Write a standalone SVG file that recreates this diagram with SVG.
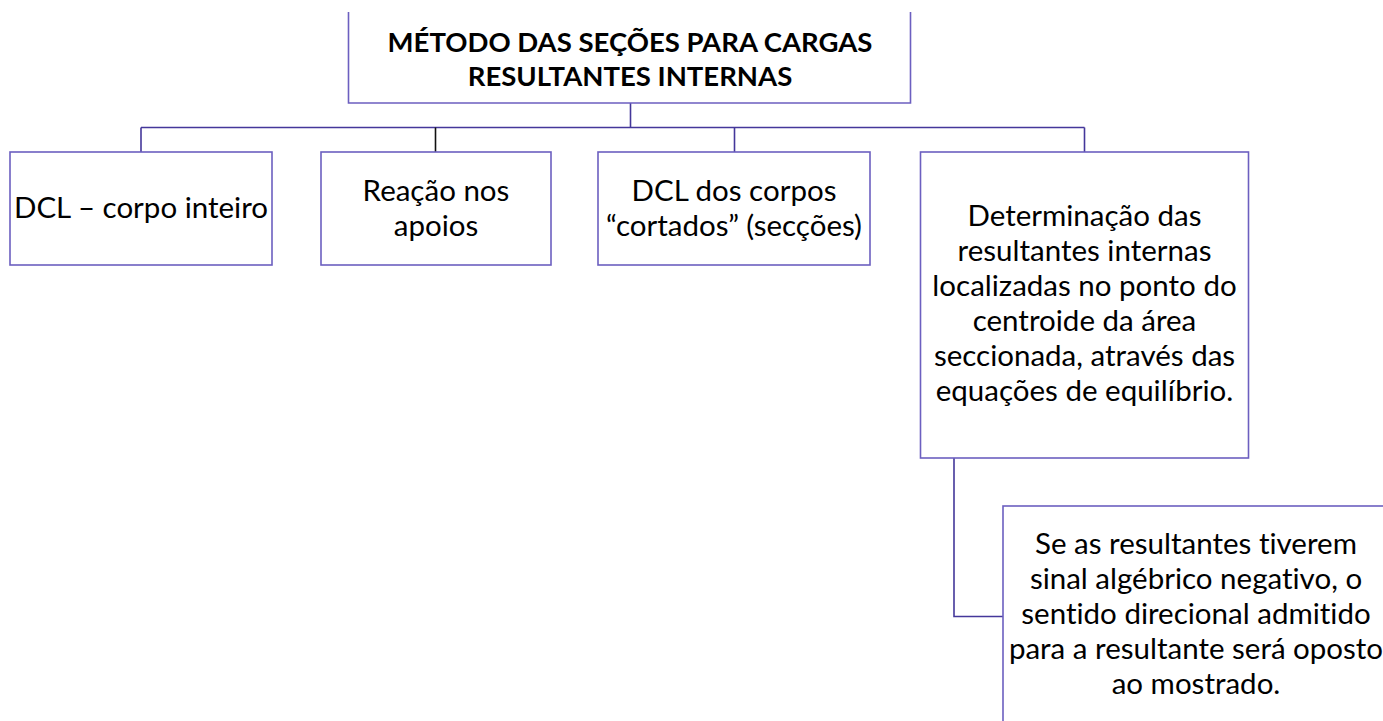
<svg xmlns="http://www.w3.org/2000/svg" width="1383" height="721" viewBox="0 0 1383 721">
<style>
.box{fill:#fff;stroke:#6c5fc0;stroke-width:1.6}
.con{fill:none;stroke:#44379a;stroke-width:1.6}
.t{font-family:Lato,"Open Sans","Liberation Sans",sans-serif;font-size:29.5px;fill:#000;text-anchor:middle;font-variant-ligatures:none;font-feature-settings:"liga" 0}
.b{font-weight:bold;font-size:27.5px}
</style>
<rect width="1383" height="721" fill="#fff"/>
<g id="connectors">
<path class="con" d="M630.5,103 V127.5"/>
<path class="con" d="M141,127.5 H1084.5"/>
<path class="con" d="M141,127.5 V152"/>
<path d="M435.5,127.5 V152" fill="none" stroke="#111" stroke-width="1.6"/>
<path class="con" d="M734.5,127.5 V152"/>
<path class="con" d="M1084.5,127.5 V152"/>
<path class="con" d="M954,458 V616.5 H1003"/>
</g>
<g id="n0">
<path class="box" d="M348.5,12 V103 H910.5 V12"/>
<text class="t b" x="630" y="52">MÉTODO DAS SEÇÕES PARA CARGAS</text>
<text class="t b" x="630" y="86">RESULTANTES INTERNAS</text>
</g>
<g id="n1">
<rect class="box" x="10" y="152" width="262" height="113"/>
<text class="t" x="141" y="218">DCL – corpo inteiro</text>
</g>
<g id="n2">
<rect class="box" x="321" y="152" width="230" height="113"/>
<text class="t" x="436" y="201">Reação nos</text>
<text class="t" x="436" y="236">apoios</text>
</g>
<g id="n3">
<rect class="box" x="598" y="152" width="272" height="113"/>
<text class="t" x="734" y="201">DCL dos corpos</text>
<text class="t" x="734" y="236">“cortados” (secções)</text>
</g>
<g id="n4">
<rect class="box" x="920.5" y="152" width="328" height="306"/>
<text class="t" x="1084.5" y="226">Determinação das</text>
<text class="t" x="1084.5" y="261">resultantes internas</text>
<text class="t" x="1084.5" y="296">localizadas no ponto do</text>
<text class="t" x="1084.5" y="331">centroide da área</text>
<text class="t" x="1084.5" y="366">seccionada, através das</text>
<text class="t" x="1084.5" y="401">equações de equilíbrio.</text>
</g>
<g id="n5">
<rect class="box" x="1003" y="506" width="390" height="230"/>
<text class="t" x="1196" y="554">Se as resultantes tiverem</text>
<text class="t" x="1196" y="589">sinal algébrico negativo, o</text>
<text class="t" x="1196" y="624">sentido direcional admitido</text>
<text class="t" x="1196" y="659">para a resultante será oposto</text>
<text class="t" x="1196" y="694">ao mostrado.</text>
</g>
</svg>
